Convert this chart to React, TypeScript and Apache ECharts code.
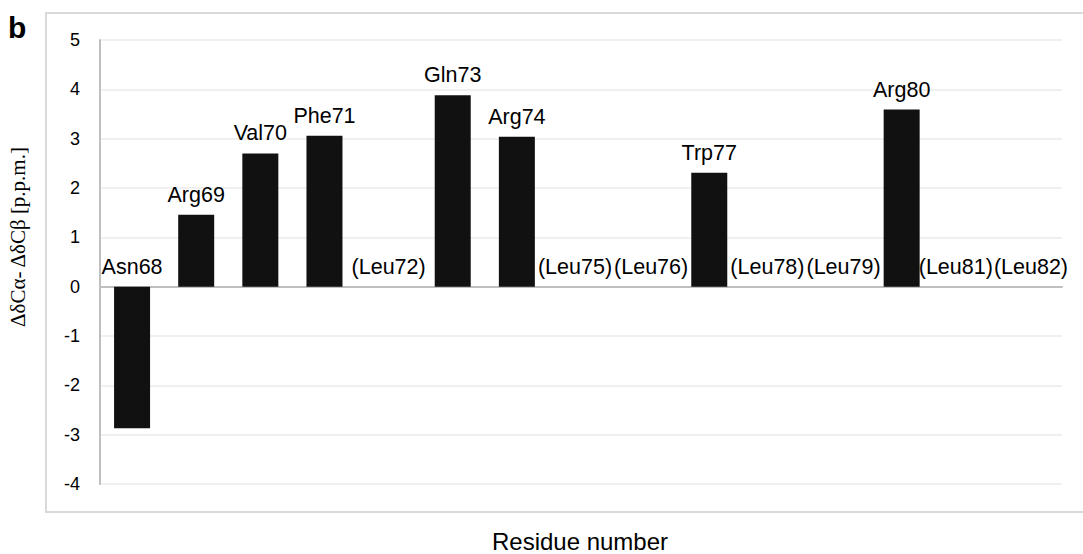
import React, { useEffect, useRef } from "react";
import * as echarts from "echarts";

const residues = [
  "Asn68", "Arg69", "Val70", "Phe71", "(Leu72)", "Gln73", "Arg74", "(Leu75)",
  "(Leu76)", "Trp77", "(Leu78)", "(Leu79)", "Arg80", "(Leu81)", "(Leu82)",
];
const deltaValues = [-2.87, 1.46, 2.7, 3.06, 0, 3.88, 3.04, 0, 0, 2.31, 0, 0, 3.59, 0, 0];
const yMin = -4;
const yMax = 5;
const yInterval = 1;
const xAxisTitle = "Residue number";
const yAxisTitle = "ΔδCα- ΔδCβ [p.p.m.]";
const panelLetter = "b";

// horizontal label nudges (px) used to keep neighbouring labels from overlapping
const labelNudge: Record<string, number> = {
  "(Leu75)": -6, "(Leu76)": 6,
  "(Leu78)": -6, "(Leu79)": 6,
  "(Leu81)": -10, "(Leu82)": 1,
};

const FONT = "'Liberation Sans', Arial, sans-serif";

export default function App() {
  const ref = useRef<HTMLDivElement>(null);
  useEffect(() => {
    if (!ref.current) return;
    const chart = echarts.init(ref.current, undefined, { renderer: "svg" });
    chart.setOption({
      animation: false,
      backgroundColor: "#ffffff",
      grid: { left: 100, right: 21, top: 40, bottom: 70, containLabel: false },
      xAxis: {
        type: "category",
        data: residues,
        axisLine: { show: true, onZero: true, lineStyle: { color: "#bfbfbf", width: 2 } },
        axisTick: { show: false },
        axisLabel: { show: false },
        splitLine: { show: false },
      },
      yAxis: {
        type: "value",
        min: yMin,
        max: yMax,
        interval: yInterval,
        axisLine: { show: true, lineStyle: { color: "#bfbfbf", width: 2 } },
        axisTick: { show: false },
        axisLabel: { fontSize: 18, color: "#000", margin: 20, fontFamily: FONT },
        splitLine: { show: true, lineStyle: { color: "#f0f0f0", width: 2 } },
      },
      series: [
        {
          type: "bar",
          data: deltaValues,
          barWidth: 36,
          itemStyle: { color: "#111111" },
          label: {
            show: true,
            position: "top",
            distance: 9,
            fontSize: 21.5,
            color: "#000",
            fontFamily: FONT,
            formatter: (p: any) => residues[p.dataIndex],
          },
          labelLayout: (params: any) => ({
            dx: labelNudge[residues[params.dataIndex]] || 0,
            hideOverlap: false,
          }),
        },
      ],
      graphic: [
        {
          type: "rect",
          shape: { x: 46, y: 13, width: 1100, height: 499 },
          style: { fill: "none", stroke: "#d9d9d9", lineWidth: 2 },
          silent: true,
        },
        {
          type: "text",
          x: 8,
          y: 12,
          style: { text: panelLetter, font: `bold 30px ${FONT}`, fill: "#000" },
        },
        {
          type: "text",
          x: 18,
          y: 237,
          rotation: Math.PI / 2,
          style: {
            text: yAxisTitle,
            font: `21px 'Liberation Serif', 'Times New Roman', serif`,
            fill: "#000",
            align: "center",
            verticalAlign: "middle",
          },
        },
        {
          type: "text",
          x: 580,
          y: 541,
          style: {
            text: xAxisTitle,
            font: `24px ${FONT}`,
            fill: "#000",
            align: "center",
            verticalAlign: "middle",
          },
        },
      ],
    });
    return () => chart.dispose();
  }, []);
  return (
    <div
      ref={ref}
      style={{ position: "fixed", left: 0, top: 0, width: 1083, height: 554 }}
    />
  );
}
